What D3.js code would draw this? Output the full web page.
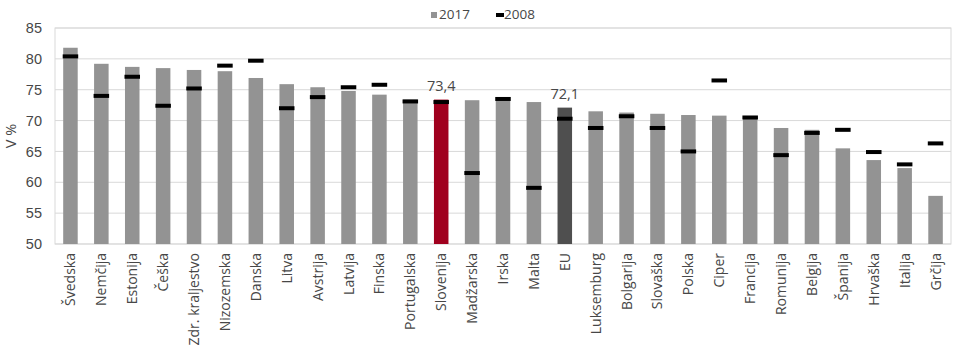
<!DOCTYPE html>
<html lang="sl">
<head>
    <meta charset="UTF-8">
    <title>Stopnja delovne aktivnosti 2017 / 2008</title>
    <script src="https://d3js.org/d3.v7.min.js"></script>
    <style>
        body {
            margin: 0;
            background: #fff;
            font-family: "Open Sans", "Noto Sans", sans-serif;
        }
        svg text { fill: #474747; }
    </style>
</head>
<body>
    <svg id="chart" width="960" height="350"></svg>
    <script>
        // data
        const countries = ["Švedska", "Nemčija", "Estonija", "Češka", "Zdr. kraljestvo", "Nizozemska", "Danska",
            "Litva", "Avstrija", "Latvija", "Finska", "Portugalska", "Slovenija", "Madžarska", "Irska", "Malta",
            "EU", "Luksemburg", "Bolgarija", "Slovaška", "Polska", "Ciper", "Francija", "Romunija", "Belgija",
            "Španija", "Hrvaška", "Italija", "Grčija"];
        const values2017 = [81.8, 79.2, 78.7, 78.5, 78.2, 78.0, 76.9, 75.9, 75.4, 74.8, 74.2, 73.4, 73.4, 73.3,
            73.2, 73.0, 72.1, 71.5, 71.3, 71.1, 70.9, 70.8, 70.6, 68.8, 68.5, 65.5, 63.6, 62.3, 57.8];
        const values2008 = [80.4, 74.0, 77.1, 72.4, 75.2, 78.9, 79.7, 72.0, 73.8, 75.4, 75.8, 73.1, 73.0, 61.5,
            73.5, 59.1, 70.3, 68.8, 70.7, 68.8, 65.0, 76.5, 70.5, 64.4, 68.0, 68.5, 64.9, 62.9, 66.3];
        const yTicks = [50, 55, 60, 65, 70, 75, 80, 85];
        const labelled = { "Slovenija": "73,4", "EU": "72,1" };

        const svg = d3.select("#chart"),
            margin = { top: 28, right: 9, bottom: 106, left: 55 },
            width = +svg.attr("width") - margin.left - margin.right,
            height = +svg.attr("height") - margin.top - margin.bottom,
            g = svg.append("g").attr("transform", `translate(${margin.left},${margin.top})`);

        const x = d3.scaleBand().domain(countries).range([0, width]).paddingInner(0.53).paddingOuter(0.265);
        const y = d3.scaleLinear().domain([50, 85]).range([height, 0]);

        const barColor = d => d === "Slovenija" ? "#a0001e" : d === "EU" ? "#4f4f4f" : "#939393";

        // gridlines
        g.append("g")
            .selectAll("line")
            .data(yTicks)
            .join("line")
            .attr("x1", 0).attr("x2", width)
            .attr("y1", d => y(d)).attr("y2", d => y(d))
            .attr("stroke", "#d9d9d9");

        // plot border
        g.append("rect")
            .attr("width", width).attr("height", height)
            .attr("fill", "none").attr("stroke", "#d9d9d9");

        // y axis
        const yAxis = g.append("g")
            .call(d3.axisLeft(y).tickValues(yTicks).tickSize(0).tickPadding(13));
        yAxis.select(".domain").remove();
        yAxis.selectAll("text").style("font-size", "14.5px").style("fill", "#474747");

        svg.append("text")
            .attr("transform", `translate(16,${margin.top + height / 2}) rotate(-90)`)
            .attr("text-anchor", "middle")
            .style("font-size", "14.5px")
            .text("V %");

        // bars 2017
        g.selectAll(".bar")
            .data(countries)
            .join("rect")
            .attr("class", "bar")
            .attr("x", d => x(d))
            .attr("width", x.bandwidth())
            .attr("y", (d, i) => y(values2017[i]))
            .attr("height", (d, i) => height - y(values2017[i]))
            .attr("fill", barColor);

        // markers 2008
        g.selectAll(".mark")
            .data(countries)
            .join("rect")
            .attr("class", "mark")
            .attr("x", d => x(d) - 0.5)
            .attr("width", x.bandwidth() + 1)
            .attr("y", (d, i) => y(values2008[i]) - 2)
            .attr("height", 4)
            .attr("fill", "#000");

        // value labels
        g.selectAll(".vlabel")
            .data(countries.filter(d => labelled[d]))
            .join("text")
            .attr("class", "vlabel")
            .attr("x", d => x(d) + x.bandwidth() / 2)
            .attr("y", d => y(values2017[countries.indexOf(d)]) - 9)
            .attr("text-anchor", "middle")
            .style("font-size", "14.5px")
            .text(d => labelled[d]);

        // category labels
        g.selectAll(".cat")
            .data(countries)
            .join("text")
            .attr("class", "cat")
            .attr("transform", d => `translate(${x(d) + x.bandwidth() / 2 + 5},${height + 9}) rotate(-90)`)
            .attr("text-anchor", "end")
            .style("font-size", "14px")
            .text(d => d);

        // legend
        const legend = svg.append("g");
        legend.append("rect").attr("x", 431).attr("y", 12).attr("width", 6).attr("height", 6).attr("fill", "#939393");
        legend.append("text").attr("x", 439).attr("y", 19).style("font-size", "13.5px").text("2017");
        legend.append("rect").attr("x", 496).attr("y", 13).attr("width", 8).attr("height", 4).attr("fill", "#000");
        legend.append("text").attr("x", 504).attr("y", 19).style("font-size", "13.5px").text("2008");
    </script>
</body>
</html>
